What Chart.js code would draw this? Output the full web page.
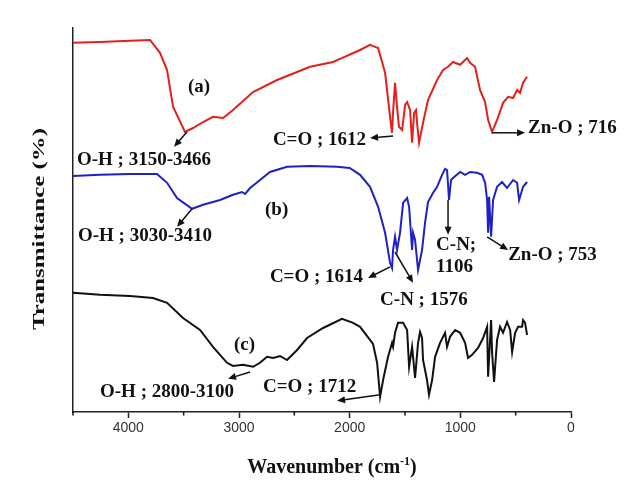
<!DOCTYPE html>
<html>
<head>
<meta charset="utf-8">
<title>FTIR spectra</title>
<script src="https://cdn.jsdelivr.net/npm/chart.js@4.4.1/dist/chart.umd.min.js"></script>
<style>
  html, body { margin: 0; padding: 0; background: #fff; }
</style>
</head>
<body>
<canvas id="myChart" width="641" height="494"></canvas>
<script>
'use strict';
/*---------------- spectrum (a) : red ----------------*/
const waveA = [4500, 4256, 3985, 3804, 3714, 3650, 3596, 3488, 3415, 3325, 3235, 3144, 3054, 2873, 2656, 2358, 2150, 2087, 1906, 1816, 1743, 1680, 1635, 1617, 1608, 1590, 1572, 1554, 1526, 1499, 1481, 1454, 1436, 1418, 1400, 1391, 1373, 1337, 1292, 1210, 1156, 1111, 1066, 1002, 939, 912, 867, 822, 776, 749, 713, 668, 614, 568, 523, 487, 460, 433, 397];
const transA = [92.3, 92.5, 92.8, 93, 89.8, 85.5, 76.3, 70, 71, 72.5, 73.8, 73.5, 75.5, 80, 83, 86.3, 87.5, 88.3, 90.5, 91.8, 91, 84.8, 73.8, 69.8, 74.8, 82.3, 76.3, 71.3, 70.5, 76.8, 77.5, 75.5, 67.3, 74.8, 75.5, 72.3, 67.3, 72.3, 78, 83, 85.5, 86.3, 87.5, 86.8, 88.5, 87.3, 86.3, 80.5, 77.5, 73, 70, 73, 77.3, 78.8, 78.5, 80.5, 79.8, 82.3, 83.8];
/*---------------- spectrum (b) : blue ----------------*/
const waveB = [4500, 4256, 3985, 3741, 3650, 3560, 3424, 3325, 3171, 3054, 2973, 2945, 2900, 2810, 2720, 2566, 2358, 2114, 2000, 1906, 1816, 1743, 1680, 1635, 1617, 1608, 1590, 1572, 1545, 1517, 1481, 1463, 1436, 1427, 1409, 1382, 1346, 1319, 1292, 1246, 1210, 1165, 1138, 1120, 1102, 1084, 1066, 1002, 957, 912, 849, 803, 776, 758, 749, 740, 722, 704, 668, 623, 578, 523, 487, 469, 433, 397];
const transB = [59, 59.3, 59.5, 59.5, 57.3, 53.5, 50.8, 51.8, 53, 54.3, 55, 54.5, 56, 58, 60, 61.3, 61.5, 61.3, 61, 59.3, 56.3, 51.3, 44.8, 37.3, 36, 40.5, 43.8, 40.5, 44.8, 52.3, 53.5, 51.3, 40.5, 44.8, 43, 35.5, 40.5, 47.3, 52.5, 54.8, 56.3, 59.3, 60.8, 60.5, 53, 58, 58.5, 60, 59.3, 60, 59.8, 59.3, 57.3, 53, 44.8, 53.8, 43.8, 53, 56.3, 57.5, 56, 58, 57.3, 53, 56.3, 57.5];
/*---------------- spectrum (c) : black ----------------*/
const waveC = [4500, 4256, 3985, 3777, 3650, 3506, 3352, 3235, 3108, 3054, 2964, 2873, 2810, 2747, 2692, 2629, 2566, 2475, 2385, 2240, 2069, 1969, 1906, 1789, 1752, 1725, 1698, 1653, 1617, 1608, 1590, 1563, 1517, 1481, 1463, 1436, 1427, 1409, 1382, 1364, 1346, 1337, 1301, 1283, 1255, 1228, 1183, 1138, 1120, 1093, 1047, 1002, 957, 930, 894, 840, 794, 758, 749, 722, 713, 695, 668, 641, 614, 578, 550, 532, 505, 478, 442, 433, 415, 397];
const transC = [29.8, 29.3, 29, 28.5, 27.3, 23.5, 20.5, 16.3, 12.3, 11.5, 11.8, 11.3, 12.3, 13.8, 13.5, 14, 13, 15.5, 18.5, 21, 23.3, 22.3, 21.3, 17, 12.3, 3.8, 8, 13.8, 17.3, 16.3, 19.8, 22.3, 22.3, 20.5, 11.3, 16.3, 13.8, 8.5, 17.3, 20, 18.5, 13, 8, 4.3, 8, 13.8, 17.3, 19.8, 16.3, 18.8, 20.5, 19.8, 17.3, 13.5, 14.3, 16, 18.5, 21.3, 8.8, 23, 14.8, 7.5, 18, 21.3, 19.8, 22.5, 20.5, 15, 19.8, 21.3, 21.3, 23, 22.3, 19.3];

const xTicks = [4000, 3000, 2000, 1000, 0];

/*---------------- labels and arrows (in wavenumber / transmittance units) ----------------*/
const notes = [
  { text: '(a)', w: 3461, t: 81.3, align: 'left' },
  { text: 'O-H ; 3150-3466', w: 4464, t: 63, align: 'left' },
  { text: 'C=O ; 1612', w: 1852, t: 68, align: 'right' },
  { text: 'Zn-O ; 716', w: 388, t: 71, align: 'left' },
  { text: '(b)', w: 2765, t: 50.5, align: 'left' },
  { text: 'O-H ; 3030-3410', w: 4455, t: 44, align: 'left' },
  { text: 'C=O ; 1614', w: 1879, t: 33.8, align: 'right' },
  { text: 'C-N ; 1576', w: 1725, t: 28, align: 'left' },
  { text: 'C-N;', w: 1219, t: 41.8, align: 'left' },
  { text: '1106', w: 1219, t: 36.3, align: 'left' },
  { text: 'Zn-O ; 753', w: 568, t: 39.3, align: 'left' },
  { text: '(c)', w: 3045, t: 16.8, align: 'left' },
  { text: 'O-H ; 2800-3100', w: 4256, t: 5, align: 'left' },
  { text: 'C=O ; 1712', w: 2783, t: 6.3, align: 'left' }
];
const arrows = [
  [3470, 70, 3587, 66.3],
  [1608, 69, 1816, 68.5],
  [713, 69.8, 415, 69.8],
  [3424, 50.8, 3560, 46.3],
  [1635, 36.3, 1834, 33.5],
  [1590, 40, 1427, 32.3],
  [1111, 53, 1111, 44.3],
  [758, 43.8, 568, 40.5],
  [2900, 10, 3099, 8.3],
  [1725, 4.3, 2114, 2.8]
];

function toPoints(xs, ys) {
  return xs.map((x, i) => ({ x: x, y: ys[i] }));
}

function drawArrow(ctx, x1, y1, x2, y2) {
  const ang = Math.atan2(y2 - y1, x2 - x1);
  const head = 8;
  const half = 3.5;
  ctx.beginPath();
  ctx.moveTo(x1, y1);
  ctx.lineTo(x2 - Math.cos(ang) * head * 0.7, y2 - Math.sin(ang) * head * 0.7);
  ctx.stroke();
  ctx.beginPath();
  ctx.moveTo(x2, y2);
  ctx.lineTo(x2 - head * Math.cos(ang) + half * Math.sin(ang), y2 - head * Math.sin(ang) - half * Math.cos(ang));
  ctx.lineTo(x2 - head * Math.cos(ang) - half * Math.sin(ang), y2 - head * Math.sin(ang) + half * Math.cos(ang));
  ctx.closePath();
  ctx.fill();
}

/*---------------- plugin: annotations, minor ticks, axis titles ----------------*/
const annotatePlugin = {
  id: 'annotate',
  afterDraw(chart) {
    const ctx = chart.ctx;
    const xs = chart.scales.x;
    const ys = chart.scales.y;
    ctx.save();
    ctx.fillStyle = '#111';
    ctx.strokeStyle = '#111';
    ctx.lineWidth = 1.5;

    // minor ticks every 500
    for (let v = 500; v < 4600; v += 1000) {
      const px = xs.getPixelForValue(v);
      ctx.beginPath();
      ctx.moveTo(px, xs.top);
      ctx.lineTo(px, xs.top + 3.5);
      ctx.stroke();
    }

    ctx.font = 'bold 19px "Liberation Serif", "Times New Roman", serif';
    ctx.textBaseline = 'middle';
    notes.forEach(n => {
      ctx.textAlign = n.align;
      ctx.fillText(n.text, xs.getPixelForValue(n.w), ys.getPixelForValue(n.t));
    });

    arrows.forEach(a => {
      drawArrow(ctx, xs.getPixelForValue(a[0]), ys.getPixelForValue(a[1]), xs.getPixelForValue(a[2]), ys.getPixelForValue(a[3]));
    });

    // x axis title with superscript
    const big = 'bold 20px "Liberation Serif", "Times New Roman", serif';
    const small = 'bold 12px "Liberation Serif", "Times New Roman", serif';
    ctx.textAlign = 'left';
    ctx.font = big;
    const w1 = ctx.measureText('Wavenumber (cm').width;
    const w3 = ctx.measureText(')').width;
    ctx.font = small;
    const w2 = ctx.measureText('-1').width;
    let sx = 332 - (w1 + w2 + w3) / 2;
    ctx.font = big;
    ctx.fillText('Wavenumber (cm', sx, 468);
    ctx.font = small;
    ctx.fillText('-1', sx + w1, 462);
    ctx.font = big;
    ctx.fillText(')', sx + w1 + w2, 468);

    // y axis title, stretched along its length like the original
    ctx.translate(40, 229);
    ctx.rotate(-Math.PI / 2);
    ctx.font = 'bold 16px "Liberation Serif", "Times New Roman", serif';
    const tw = ctx.measureText('Transmittance (%)').width;
    ctx.scale(202 / tw, 1);
    ctx.textAlign = 'center';
    ctx.fillText('Transmittance (%)', 0, 0);
    ctx.restore();
  }
};

let ctx = document.getElementById('myChart').getContext('2d');
let chart = new Chart(ctx, {
  type: 'line',
  data: {
    datasets: [{
      label: '(a)',
      data: toPoints(waveA, transA),
      borderColor: '#e3201c',
      borderWidth: 2
    },
    {
      label: '(b)',
      data: toPoints(waveB, transB),
      borderColor: '#2020c4',
      borderWidth: 2
    },
    {
      label: '(c)',
      data: toPoints(waveC, transC),
      borderColor: '#111111',
      borderWidth: 2
    }]
  },
  options: {
    responsive: false,
    animation: false,
    devicePixelRatio: 1,
    elements: { point: { radius: 0 }, line: { tension: 0 } },
    layout: { padding: { left: 73, right: 70, top: 28, bottom: 0 } },
    plugins: { legend: { display: false }, tooltip: { enabled: false } },
    scales: {
      x: {
        type: 'linear',
        reverse: true,
        min: 0,
        max: 4500,
        afterFit: s => { s.height = 82; },
        afterBuildTicks: s => { s.ticks = xTicks.map(v => ({ value: v })); },
        border: { display: true, color: '#222', width: 1.5 },
        grid: { display: true, drawOnChartArea: false, drawTicks: true, tickLength: 6, tickWidth: 1.5, tickColor: '#222' },
        ticks: {
          color: '#333',
          padding: 2,
          maxRotation: 0,
          callback: v => String(v),
          font: { family: '"Liberation Sans", Arial, sans-serif', size: 14 }
        }
      },
      y: {
        min: 0,
        max: 96,
        afterFit: s => { s.width = 0; },
        border: { display: true, color: '#222', width: 1.5 },
        grid: { display: false },
        ticks: { display: false }
      }
    }
  },
  plugins: [annotatePlugin]
});
</script>
</body>
</html>
